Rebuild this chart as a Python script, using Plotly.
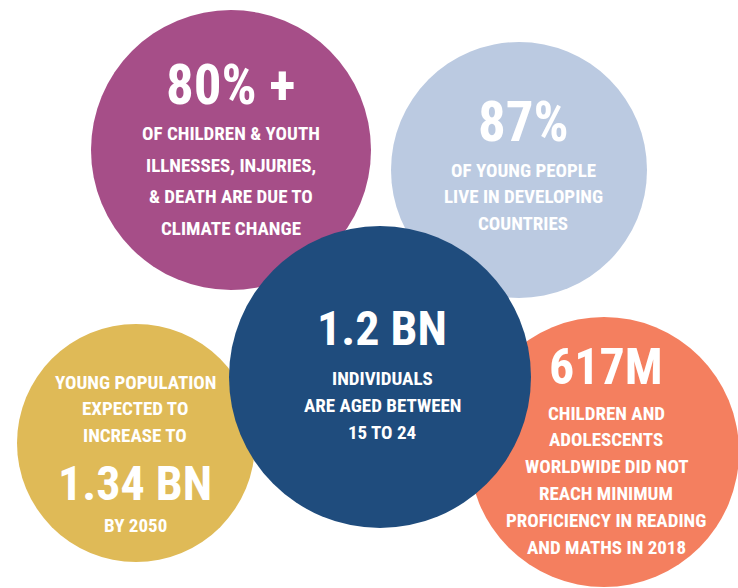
import plotly.graph_objects as go

# ---- content (data) ----
headlines = ["80% +", "87%", "1.34 BN", "1.2 BN", "617M"]
captions_before = [
    [],
    [],
    ["YOUNG POPULATION", "EXPECTED TO", "INCREASE TO"],
    [],
    [],
]
captions_after = [
    ["OF CHILDREN & YOUTH", "ILLNESSES, INJURIES,", "& DEATH ARE DUE TO", "CLIMATE CHANGE"],
    ["OF YOUNG PEOPLE", "LIVE IN DEVELOPING", "COUNTRIES"],
    ["BY 2050"],
    ["INDIVIDUALS", "ARE AGED BETWEEN", "15 TO 24"],
    ["CHILDREN AND", "ADOLESCENTS", "WORLDWIDE DID NOT", "REACH MINIMUM",
     "PROFICIENCY IN READING", "AND MATHS IN 2018"],
]

# ---- layout / style (pixel coordinates on a 738x588 canvas) ----
circle_cx = [231, 519, 136, 380, 604]
circle_cy = [150, 170, 443, 377, 452]
circle_r = [140, 128, 119, 151, 135]
circle_color = ["#A64E88", "#BBCAE1", "#DFBA57", "#1F4C7D", "#F47F5F"]
draw_order = [0, 1, 2, 4, 3]

text_x = [231, 523, 135, 382, 606]
before_y0 = [None, None, 382, None, None]
headline_y = [85, 122, 483, 328, 367]
after_y0 = [133.5, 170, 525, 378, 413]
line_step = [31.5, 26.7, 26.5, 27, 26.8]
headline_size = [55, 55, 48, 48, 50]

FONT = "Roboto Condensed, Liberation Sans Narrow, Roboto, sans-serif"
SMALL = 19
W, H = 738, 588

fig = go.Figure()
fig.add_trace(go.Scatter(x=[0, W], y=[0, H], mode="markers",
                         marker=dict(opacity=0), hoverinfo="skip", showlegend=False))

for i in draw_order:
    fig.add_shape(type="circle", xref="x", yref="y",
                  x0=circle_cx[i] - circle_r[i], x1=circle_cx[i] + circle_r[i],
                  y0=circle_cy[i] - circle_r[i], y1=circle_cy[i] + circle_r[i],
                  fillcolor=circle_color[i], line=dict(width=0), layer="below")

def add_text(x, y, s, size):
    fig.add_annotation(x=x, y=y, xref="x", yref="y", text=s, showarrow=False,
                       xanchor="center", yanchor="middle",
                       font=dict(family=FONT, size=size, color="white", weight=700))

for i in range(len(headlines)):
    for k, line in enumerate(captions_before[i]):
        add_text(text_x[i], before_y0[i] + k * line_step[i], line, SMALL)
    add_text(text_x[i], headline_y[i], headlines[i], headline_size[i])
    for k, line in enumerate(captions_after[i]):
        add_text(text_x[i], after_y0[i] + k * line_step[i], line, SMALL)

fig.update_layout(
    width=W, height=H,
    margin=dict(l=0, r=0, t=0, b=0),
    paper_bgcolor="white", plot_bgcolor="white",
    xaxis=dict(range=[0, W], visible=False, fixedrange=True),
    yaxis=dict(range=[H, 0], visible=False, fixedrange=True),
    showlegend=False,
)

fig.write_html("out.html", config={"displayModeBar": False},
               post_script="document.body.style.margin='0';")
